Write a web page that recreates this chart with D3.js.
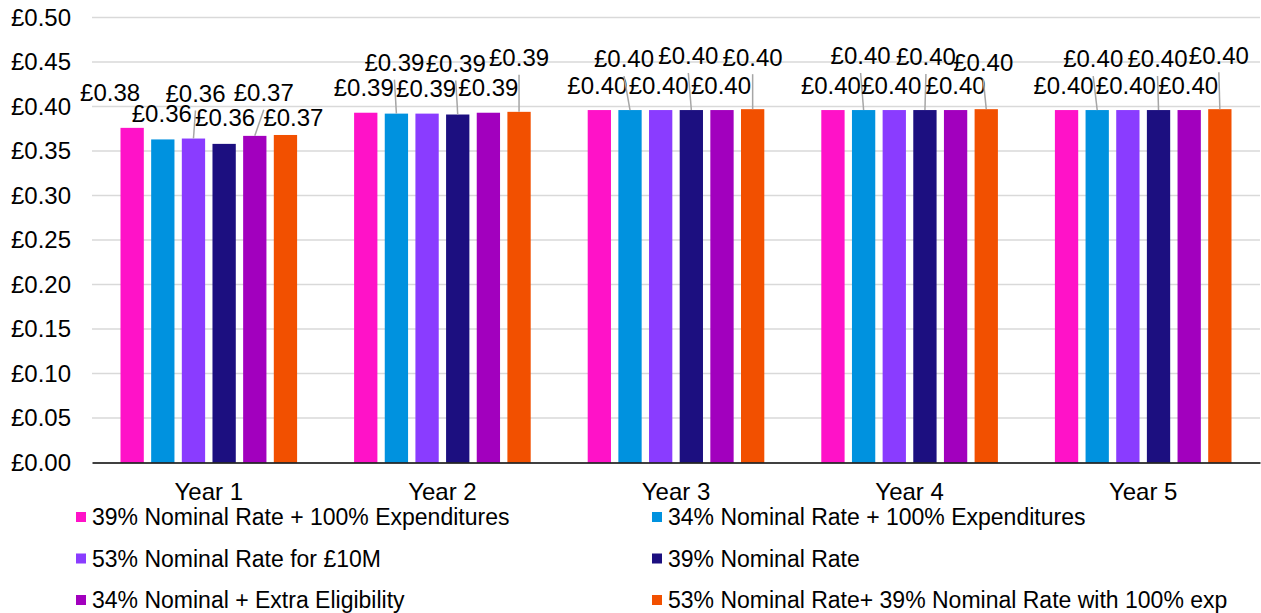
<!DOCTYPE html>
<html>
  <head>
    <title>Cost per pound by year</title>
    <script src="https://d3js.org/d3.v7.min.js"></script>
    <style>
      body { margin: 0; background: #fff; }
      text { font-family: "Liberation Sans", Arial, sans-serif; fill: #000; }
    </style>
  </head>

  <body>
    <svg width="1261" height="613"></svg>

    <script type="text/javascript">
      // data
      const years = ["Year 1", "Year 2", "Year 3", "Year 4", "Year 5"];
      const seriesNames = [
        "39% Nominal Rate + 100% Expenditures",
        "34% Nominal Rate + 100% Expenditures",
        "53% Nominal Rate for £10M",
        "39% Nominal Rate",
        "34% Nominal + Extra Eligibility",
        "53% Nominal Rate+ 39% Nominal Rate with 100% exp"
      ];
      const nominal39exp = [0.376, 0.393, 0.396, 0.396, 0.396];
      const nominal34exp = [0.363, 0.392, 0.396, 0.396, 0.396];
      const nominal53 = [0.364, 0.392, 0.396, 0.396, 0.396];
      const nominal39 = [0.358, 0.391, 0.396, 0.396, 0.396];
      const nominal34extra = [0.367, 0.393, 0.396, 0.396, 0.396];
      const nominal53plus = [0.368, 0.394, 0.397, 0.397, 0.397];
      const yTicks = [0, 0.05, 0.1, 0.15, 0.2, 0.25, 0.3, 0.35, 0.4, 0.45, 0.5];

      const colors = ["#ff12c8", "#0092df", "#8a3cff", "#1c0f80", "#a200be", "#f25000"];
      const allSeries = [nominal39exp, nominal34exp, nominal53, nominal39, nominal34extra, nominal53plus];

      // label nudges (dx, dy of text centre from bar top), like the hand-moved labels
      const labelShift = [
        [[-22, -35], [-1, -26], [2, -45], [1, -26], [9, -43], [8, -17]],
        [[-2, -25], [-2, -51], [-1, -25], [-2, -51], [0, -25], [0, -54]],
        [[-2, -24], [-6, -51], [-2, -24], [-3, -54], [-1, -24], [0, -52]],
        [[-2, -24], [-3, -54], [-3, -24], [1, -53], [0, -24], [-3, -47]],
        [[-3, -24], [-4, -51], [-2, -24], [-1, -51], [-1, -24], [-1, -54]]
      ];

      const svg = d3.select("svg");
      const plotLeft = 92, plotRight = 1260, plotTop = 17.5, plotBottom = 462.5;

      const x0 = d3.scaleBand().domain(years).range([plotLeft, plotRight])
        .paddingInner(0.244).paddingOuter(0.122);
      const x1 = d3.scaleBand().domain(d3.range(6)).range([0, x0.bandwidth()])
        .paddingInner(0.24);
      const y = d3.scaleLinear().domain([0, 0.5]).range([plotBottom, plotTop]);
      const fmt = d3.format(".2f");

      // gridlines
      svg.append("g")
        .selectAll("line")
        .data(yTicks.filter(d => d > 0))
        .join("line")
        .attr("x1", plotLeft)
        .attr("x2", plotRight)
        .attr("y1", d => y(d))
        .attr("y2", d => y(d))
        .attr("stroke", "#d9d9d9")
        .attr("stroke-width", 1.5);

      // y axis labels
      const yAxis = svg.append("g")
        .attr("transform", "translate(" + (plotLeft - 21) + ",0)")
        .call(d3.axisLeft(y).tickValues(yTicks).tickSize(0).tickFormat(d => "£" + fmt(d)));
      yAxis.select(".domain").remove();
      yAxis.selectAll("text").style("font-size", "24px").attr("x", 0);

      // bars
      const rows = [];
      years.forEach((yr, i) => {
        allSeries.forEach((s, j) => {
          rows.push({ year: yr, i: i, j: j, v: s[i] });
        });
      });

      svg.append("g")
        .selectAll("rect")
        .data(rows)
        .join("rect")
        .attr("x", d => x0(d.year) + x1(d.j))
        .attr("y", d => y(d.v))
        .attr("width", x1.bandwidth())
        .attr("height", d => y(0) - y(d.v))
        .attr("fill", d => colors[d.j]);

      // x axis
      const xAxis = svg.append("g")
        .attr("transform", "translate(0," + plotBottom + ")")
        .call(d3.axisBottom(x0).tickSize(0).tickSizeOuter(0));
      xAxis.select(".domain").attr("stroke", "#000").attr("stroke-width", 1.5);
      xAxis.selectAll("text").style("font-size", "24px").attr("y", 20);

      // data labels + leader lines
      const lab = svg.append("g");
      rows.forEach(d => {
        const bx = x0(d.year) + x1(d.j) + x1.bandwidth() / 2;
        const by = y(d.v);
        const sh = labelShift[d.i][d.j];
        const lx = bx + sh[0];
        const ly = by + sh[1];
        if (sh[1] < -38) {
          lab.append("line")
            .attr("x1", lx)
            .attr("y1", ly + 17)
            .attr("x2", bx)
            .attr("y2", by)
            .attr("stroke", "#a6a6a6")
            .attr("stroke-width", 1.5);
        }
        lab.append("text")
          .attr("x", lx)
          .attr("y", ly)
          .attr("dy", "0.35em")
          .attr("text-anchor", "middle")
          .style("font-size", "24px")
          .text("£" + fmt(d.v));
      });

      // legend, two columns
      const legend = svg.append("g");
      seriesNames.forEach((name, k) => {
        const colX = k % 2 === 0 ? 76 : 652;
        const rowY = 517 + Math.floor(k / 2) * 41.5;
        legend.append("rect")
          .attr("x", colX)
          .attr("y", rowY - 5)
          .attr("width", 10)
          .attr("height", 10)
          .attr("fill", colors[k]);
        legend.append("text")
          .attr("x", colX + 16)
          .attr("y", rowY)
          .attr("dy", "0.35em")
          .style("font-size", "23px")
          .text(name);
      });
    </script>
  </body>
</html>
